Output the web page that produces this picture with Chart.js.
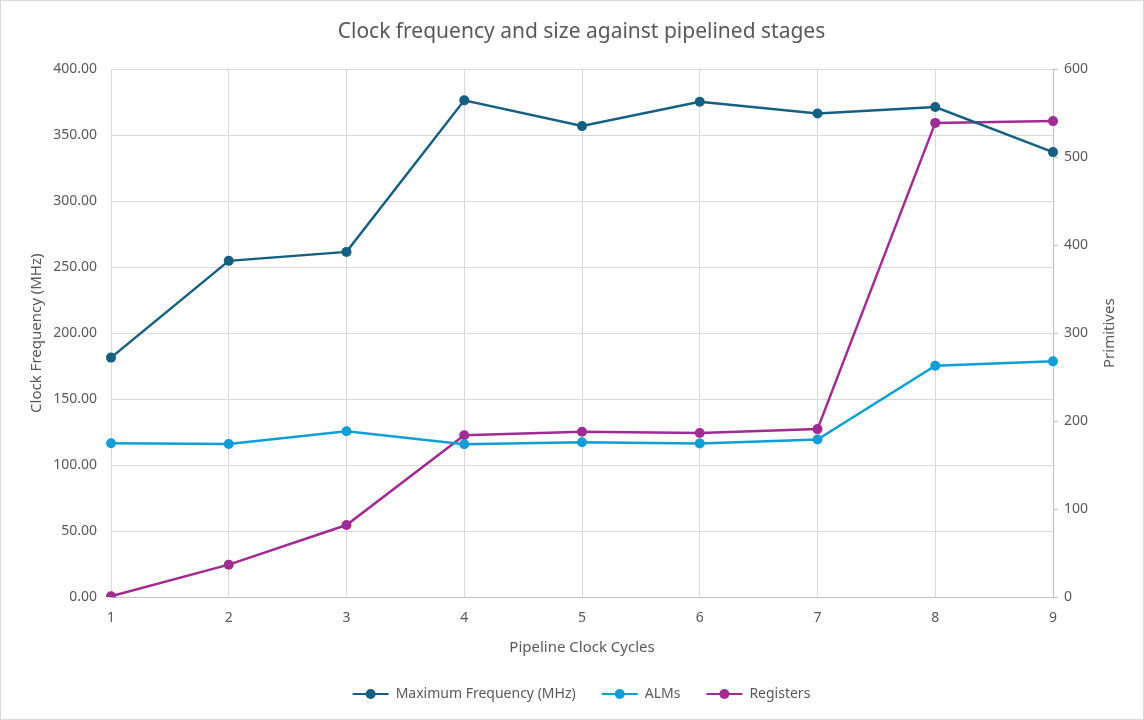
<!DOCTYPE html>
<html lang="en">
<head>
    <meta charset="UTF-8">
    <title>Clock frequency and size against pipelined stages</title>
    <script src="https://cdn.jsdelivr.net/npm/chart.js"></script>
    <style>
        html, body { margin: 0; padding: 0; background: #fff; }
        #wrap { width: 1144px; height: 720px; box-sizing: border-box; border: 1px solid #d9d9d9; }
    </style>
</head>
<body>
    <div id="wrap"><canvas id="myChart" width="1142" height="718"></canvas></div>

    <script>
        const cycles = ['1', '2', '3', '4', '5', '6', '7', '8', '9'];
        const maxFreq = [181.5, 254.8, 261.6, 376.4, 356.9, 375.4, 366.5, 371.3, 337.2];
        const alms = [175, 174, 188.6, 173.8, 176, 174.8, 179.2, 263, 268];
        const registers = [1, 37, 82, 184, 188, 186.5, 191, 539, 541];

        const grey = '#595959';
        const font = "'Noto Sans', sans-serif";

        function line(label, data, color, axis) {
            return {
                label: label,
                data: data,
                yAxisID: axis,
                borderColor: color,
                backgroundColor: color,
                borderWidth: 2.5,
                pointRadius: 5,
                pointHoverRadius: 5,
                pointBorderWidth: 0,
                tension: 0
            };
        }

        new Chart(document.getElementById('myChart'), {
            type: 'line',
            data: {
                labels: cycles,
                datasets: [
                    line('Maximum Frequency (MHz)', maxFreq, '#156082', 'y'),
                    line('ALMs', alms, '#0F9ED5', 'y1'),
                    line('Registers', registers, '#A02B93', 'y1')
                ]
            },
            options: {
                responsive: false,
                animation: false,
                layout: { padding: { top: 18, right: 4, bottom: 8, left: 23 } },
                scales: {
                    x: {
                        offset: false,
                        grid: { color: '#d9d9d9', drawTicks: false },
                        border: { color: '#bfbfbf' },
                        ticks: { color: grey, font: { family: font, size: 14 }, padding: 12 },
                        title: { display: true, text: 'Pipeline Clock Cycles', color: grey, font: { family: font, size: 15 }, padding: { top: 1 } }
                    },
                    y: {
                        position: 'left',
                        min: 0, max: 400,
                        ticks: { stepSize: 50, color: grey, font: { family: font, size: 14 }, padding: 14,
                            callback: v => v.toFixed(2) },
                        grid: { color: '#d9d9d9', drawTicks: false },
                        border: { color: '#d9d9d9' },
                        title: { display: true, text: 'Clock Frequency (MHz)', color: grey, font: { family: font, size: 15 } },
                        afterFit: s => { s.width = 87; }
                    },
                    y1: {
                        position: 'right',
                        min: 0, max: 600,
                        ticks: { stepSize: 100, color: grey, font: { family: font, size: 14 }, padding: 6 },
                        grid: { drawOnChartArea: false, color: '#bfbfbf', tickLength: 5 },
                        border: { color: '#bfbfbf' },
                        title: { display: false },
                        afterFit: s => { s.width = 86; }
                    }
                },
                plugins: {
                    title: {
                        display: true,
                        text: 'Clock frequency and size against pipelined stages',
                        color: grey,
                        font: { family: font, size: 21, weight: 'normal' },
                        padding: { top: 0, bottom: 25 }
                    },
                    legend: {
                        position: 'bottom',
                        labels: {
                            color: grey,
                            font: { family: font, size: 14 },
                            boxWidth: 36,
                            boxHeight: 2,
                            padding: 26,
                            generateLabels(chart) {
                                return Chart.defaults.plugins.legend.labels.generateLabels(chart)
                                    .map(item => Object.assign(item, { lineWidth: 0 }));
                            }
                        }
                    },
                    tooltip: { enabled: false }
                }
            },
            plugins: [{
                // legend dots and the right axis title read bottom-to-top like the original
                id: 'extras',
                afterDraw(chart) {
                    const ctx = chart.ctx;
                    const lg = chart.legend;
                    if (lg && lg.legendHitBoxes) {
                        lg.legendHitBoxes.forEach((box, i) => {
                            ctx.save();
                            ctx.fillStyle = chart.data.datasets[i].borderColor;
                            ctx.beginPath();
                            ctx.arc(box.left + 18, box.top + box.height / 2, 5, 0, Math.PI * 2);
                            ctx.fill();
                            ctx.restore();
                        });
                    }
                    const a = chart.chartArea;
                    ctx.save();
                    ctx.translate(1109, (a.top + a.bottom) / 2);
                    ctx.rotate(-Math.PI / 2);
                    ctx.fillStyle = grey;
                    ctx.font = '15px ' + font;
                    ctx.textAlign = 'center';
                    ctx.textBaseline = 'middle';
                    ctx.fillText('Primitives', 0, 0);
                    ctx.restore();
                }
            }]
        });
    </script>
</body>
</html>
